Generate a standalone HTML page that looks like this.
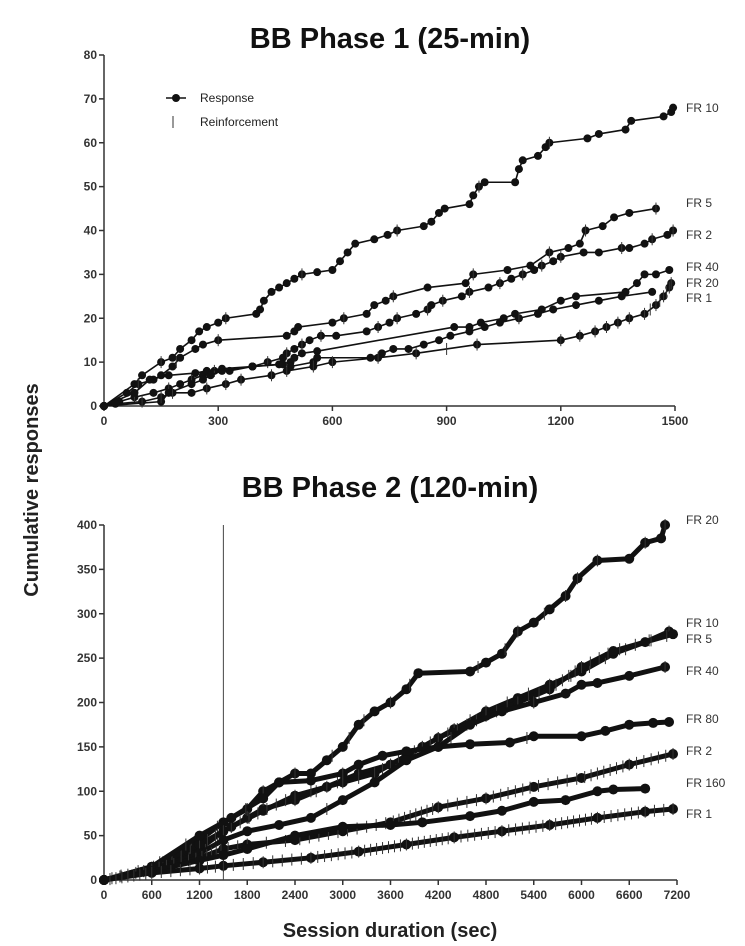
<!DOCTYPE html>
<html><head><meta charset="utf-8"><style>
body{margin:0;background:#fff;}
svg{display:block;font-family:"Liberation Sans",Arial,sans-serif;}
</style></head><body>
<svg id="chart" width="745" height="946" viewBox="0 0 745 946">
<text x="390" y="48" text-anchor="middle" font-size="29" font-weight="bold" fill="#111">BB Phase 1 (25-min)</text>
<text x="390" y="497" text-anchor="middle" font-size="29" font-weight="bold" fill="#111">BB Phase 2 (120-min)</text>
<text transform="translate(38,490) rotate(-90)" text-anchor="middle" font-size="20" font-weight="bold" fill="#222">Cumulative responses</text>
<text x="390" y="937" text-anchor="middle" font-size="20" font-weight="bold" fill="#222">Session duration (sec)</text>
<g>
<line x1="166" y1="98" x2="186" y2="98" stroke="#111" stroke-width="1.5"/>
<circle cx="176" cy="98" r="4" fill="#111"/>
<text x="200" y="102" font-size="12" fill="#222">Response</text>
<line x1="173" y1="116" x2="173" y2="128" stroke="#555" stroke-width="1.2"/>
<text x="200" y="126" font-size="12" fill="#222">Reinforcement</text>
</g>
<g id="p1"></g><g id="p2"></g>
</svg>
<script>
// Phase 1 data (time sec, cumulative responses)
const p1Names = ["FR 10","FR 5","FR 2","FR 40","FR 20","FR 1"];
const p1Ratios = [10,5,2,40,20,1];
const p1LabelY = [108,203,235,267,283,298];
const p1_FR10_t=[0,80,100,150,180,200,230,250,270,300,320,400,410,420,440,460,480,500,520,560,600,620,640,660,710,745,770,840,860,880,895,960,970,985,1000,1080,1090,1100,1140,1160,1170,1270,1300,1370,1385,1470,1490,1495];
const p1_FR10_y=[0,5,7,10,11,13,15,17,18,19,20,21,22,24,26,27,28,29,30,30.5,31,33,35,37,38,39,40,41,42,44,45,46,48,50,51,51,54,56,57,59,60,61,62,63,65,66,67,68];
const p1_FR5_t=[0,60,90,130,150,180,200,240,260,300,480,500,510,600,630,690,710,740,760,850,950,970,1060,1120,1170,1220,1250,1265,1310,1340,1380,1450];
const p1_FR5_y=[0,3,5,6,7,9,11,13,14,15,16,17,18,19,20,21,23,24,25,27,28,30,31,32,35,36,37,40,41,43,44,45];
const p1_FR2_t=[0,40,80,130,170,200,230,260,290,330,390,430,470,480,500,520,540,570,610,690,720,750,770,820,850,860,890,940,960,1010,1040,1070,1100,1130,1150,1180,1200,1260,1300,1360,1380,1420,1440,1480,1495];
const p1_FR2_y=[0,1,2,3,4,5,6,7,8,8,9,10,11,12,13,14,15,16,16,17,18,19,20,21,22,23,24,25,26,27,28,29,30,31,32,33,34,35,35,36,36,37,38,39,40];
const p1_FR40_t=[0,80,120,170,240,270,310,390,460,490,500,520,560,920,960,990,1050,1080,1150,1200,1240,1370,1400,1420,1450,1485];
const p1_FR40_y=[0,3,6,7,7.5,8,8.5,9,9.5,10,11,12,12.5,18,18,19,20,21,22,24,25,26,28,30,30,31];
const p1_FR20_t=[0,150,170,230,260,280,310,390,470,490,550,560,700,730,760,800,840,880,910,960,1000,1040,1090,1140,1180,1240,1300,1360,1440];
const p1_FR20_y=[0,1,3,5,6,7,8,9,9.5,9,10,11,11,12,13,13,14,15,16,17,18,19,20,21,22,23,24,25,26];
const p1_FR1_t=[0,30,100,150,180,230,270,320,360,440,480,550,600,720,820,980,1200,1250,1290,1320,1350,1380,1420,1450,1470,1485,1490];
const p1_FR1_y=[0,0.5,1,2,3,3,4,5,6,7,8,9,10,11,12,14,15,16,17,18,19,20,21,23,25,27,28];
const p1T=[p1_FR10_t,p1_FR5_t,p1_FR2_t,p1_FR40_t,p1_FR20_t,p1_FR1_t];
const p1Y=[p1_FR10_y,p1_FR5_y,p1_FR2_y,p1_FR40_y,p1_FR20_y,p1_FR1_y];
const p1XTicks=[0,300,600,900,1200,1500];
const p1YTicks=[0,10,20,30,40,50,60,70,80];

// Phase 2 data
const p2Names=["FR 20","FR 10","FR 5","FR 40","FR 80","FR 2","FR 160","FR 1"];
const p2Ratios=[20,10,5,40,80,2,160,1];
const p2LabelY=[520,623,639,671,719,751,783,814];
const p2_FR20_t=[0,600,1200,1500,1800,2000,2200,2400,2600,2800,3000,3200,3400,3600,3800,3950,4600,4800,5000,5200,5400,5600,5800,5950,6200,6600,6800,7000,7050];
const p2_FR20_y=[0,15,45,65,80,100,110,120,120,135,150,175,190,200,215,233,235,245,255,280,290,305,320,340,360,362,380,385,400];
const p2_FR10_t=[0,600,1200,1500,1800,2000,2400,2800,3200,3600,4000,4400,4800,5200,5600,6000,6400,6800,7100];
const p2_FR10_y=[0,12,35,55,70,80,90,105,120,130,150,170,190,205,220,235,255,268,280];
const p2_FR5_t=[0,600,1200,1600,2000,2400,3000,3400,3800,4200,4800,5200,5600,6000,6400,7150];
const p2_FR5_y=[0,14,40,60,78,95,110,120,140,160,185,200,215,240,258,277];
const p2_FR40_t=[0,600,1200,1600,2000,2200,2600,3000,3200,3500,3800,4200,4600,5000,5400,5800,6000,6200,6600,7050];
const p2_FR40_y=[0,15,50,70,92,110,112,120,130,140,145,150,175,190,200,210,220,222,230,240];
const p2_FR80_t=[0,600,1200,1500,1800,2200,2600,3000,3400,3800,4200,4600,5100,5400,6000,6300,6600,6900,7100];
const p2_FR80_y=[0,12,30,45,55,62,70,90,110,135,150,153,155,162,162,168,175,177,178];
const p2_FR2_t=[0,600,1200,1500,1800,2400,3000,3600,4200,4800,5400,6000,6600,7150];
const p2_FR2_y=[0,12,25,35,40,45,55,65,82,92,105,115,130,142];
const p2_FR160_t=[0,600,1200,1500,1800,2400,3000,3600,4000,4600,5000,5400,5800,6200,6400,6800];
const p2_FR160_y=[0,10,22,28,35,50,60,62,65,72,78,88,90,100,102,103];
const p2_FR1_t=[0,600,1200,1500,2000,2600,3200,3800,4400,5000,5600,6200,6800,7150];
const p2_FR1_y=[0,8,13,16,20,25,32,40,48,55,62,70,77,80];
const p2T=[p2_FR20_t,p2_FR10_t,p2_FR5_t,p2_FR40_t,p2_FR80_t,p2_FR2_t,p2_FR160_t,p2_FR1_t];
const p2Y=[p2_FR20_y,p2_FR10_y,p2_FR5_y,p2_FR40_y,p2_FR80_y,p2_FR2_y,p2_FR160_y,p2_FR1_y];
const p2XTicks=[0,600,1200,1800,2400,3000,3600,4200,4800,5400,6000,6600,7200];
const p2YTicks=[0,50,100,150,200,250,300,350,400];
const p2MarkerLine=1500;

const NS="http://www.w3.org/2000/svg";
function mk(tag,attrs,parent){const e=document.createElementNS(NS,tag);for(const k in attrs)e.setAttribute(k,attrs[k]);parent.appendChild(e);return e;}

function drawPanel(g,cfg){
  const sx=v=>cfg.x0+(v-cfg.xmin)/(cfg.xmax-cfg.xmin)*(cfg.x1-cfg.x0);
  const sy=v=>cfg.y0-(v/cfg.ymax)*(cfg.y0-cfg.y1);
  const ax=mk('g',{},g);
  
  
  const yl=mk('line',{x1:cfg.x0,y1:cfg.y0,x2:cfg.x0,y2:cfg.y1,stroke:'#333','stroke-width':1.5},ax);
  
  
  const xl=mk('line',{x1:cfg.x0,y1:cfg.y0,x2:cfg.x1,y2:cfg.y0,stroke:'#333','stroke-width':1.5},ax);
  
  
  cfg.yTicks.forEach(v=>{
    mk('line',{x1:cfg.x0-5,y1:sy(v),x2:cfg.x0,y2:sy(v),stroke:'#333','stroke-width':1.5},ax);
    const t=mk('text',{x:cfg.x0-7,y:sy(v)+4,'text-anchor':'end','font-size':12,'font-weight':'bold',fill:'#333'},ax);
    t.textContent=v;
    
    
  });
  cfg.xTicks.forEach(v=>{
    mk('line',{x1:sx(v),y1:cfg.y0,x2:sx(v),y2:cfg.y0+5,stroke:'#333','stroke-width':1.5},ax);
    const t=mk('text',{x:sx(v),y:cfg.y0+19,'text-anchor':'middle','font-size':12,'font-weight':'bold',fill:'#333'},ax);
    t.textContent=v;
    
    
  });
  if(cfg.vline!=null){
    const vl=mk('line',{x1:sx(cfg.vline),y1:cfg.y0,x2:sx(cfg.vline),y2:cfg.y1,stroke:'#444','stroke-width':1},g);
    
    
  }
  cfg.T.forEach((ts,i)=>{
    const ys=cfg.Y[i];
    const sg=mk('g',{},g);
    
    
    mk('polyline',{points:ts.map((t,j)=>sx(t)+','+sy(ys[j])).join(' '),fill:'none',stroke:'#111','stroke-width':cfg.lw,'stroke-linejoin':'round'},sg);
    ts.forEach((t,j)=>{
      const c=mk('circle',{cx:sx(t),cy:sy(ys[j]),r:cfg.r,fill:'#111'},sg);
      
      
    });
    const ratio=cfg.ratios[i];
    let next=ratio;
    for(let j=1;j<ts.length;j++){
      while(ys[j]>=next){
        const f=(next-ys[j-1])/((ys[j]-ys[j-1])||1);
        const tt=ts[j-1]+Math.max(0,Math.min(1,f))*(ts[j]-ts[j-1]);
        const l=mk('line',{x1:sx(tt),y1:sy(next)-cfg.tick,x2:sx(tt),y2:sy(next)+cfg.tick,stroke:'#333','stroke-width':1},sg);
        
        
        next+=ratio;
      }
    }
    const lb=mk('text',{x:686,y:cfg.labelY[i]+4,'font-size':12,fill:'#333'},g);
    lb.textContent=cfg.names[i];
    
    
  });
}
drawPanel(document.getElementById('p1'),{prefix:'phase1',x0:104,x1:675,y0:406,y1:55,xmin:0,xmax:1500,ymax:80,
  xTicks:p1XTicks,yTicks:p1YTicks,T:p1T,Y:p1Y,names:p1Names,ratios:p1Ratios,labelY:p1LabelY,lw:1.6,r:4,tick:6,vline:null});
drawPanel(document.getElementById('p2'),{prefix:'phase2',x0:104,x1:677,y0:880,y1:525,xmin:0,xmax:7200,ymax:400,
  xTicks:p2XTicks,yTicks:p2YTicks,T:p2T,Y:p2Y,names:p2Names,ratios:p2Ratios,labelY:p2LabelY,lw:5,r:5,tick:6,vline:p2MarkerLine});
</script>
</body></html>
